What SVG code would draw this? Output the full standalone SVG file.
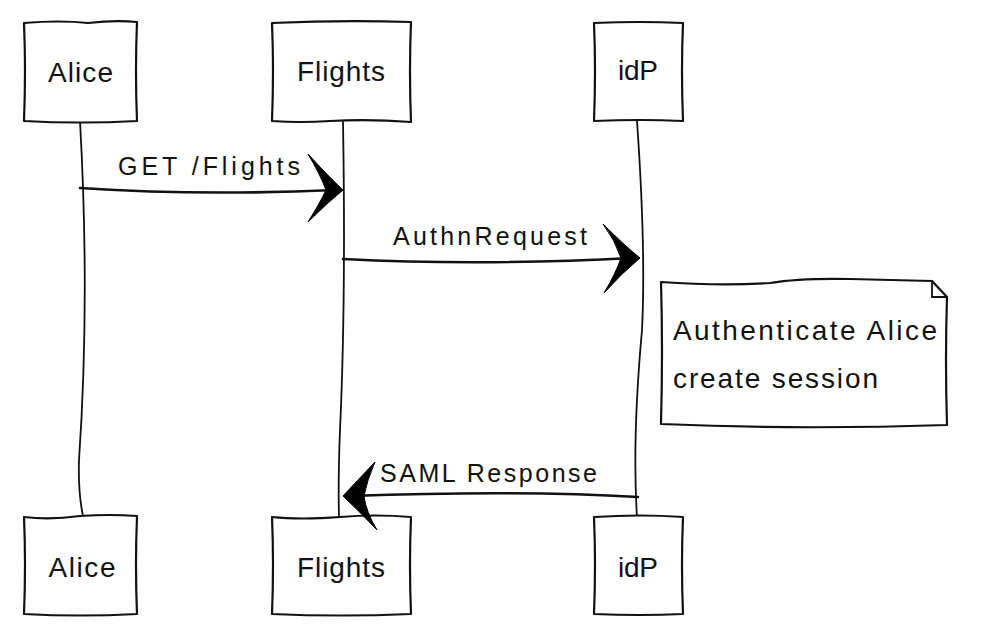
<svg xmlns="http://www.w3.org/2000/svg" width="986" height="626" viewBox="0 0 986 626">
<style>
.bx{fill:#fff;stroke:#111;stroke-width:2.2;stroke-linejoin:round}
.ln{fill:none;stroke:#111;stroke-width:1.8;stroke-linecap:round}
.msg{fill:none;stroke:#111;stroke-width:2.6;stroke-linecap:round}
.hd{fill:#000;stroke:#000;stroke-width:1}
.t{font-family:"Liberation Sans",Arial,sans-serif;fill:#111}
.nl{font-size:28px;text-anchor:middle}
.ml{font-size:25px}
</style>
<rect width="986" height="626" fill="#fff"/>
<g id="lifelines">
<path class="ln" d="M80 121 Q 90 300 79 460 Q 78 492 83 516"/>
<path class="ln" d="M343 122 Q 346 300 340 430 Q 338 480 339 517"/>
<path class="ln" d="M637 121 Q 646 250 642 330 Q 632 440 637 517"/>
</g>
<g id="node-alice-top">
<path class="bx" d="M24 23 Q 60 20 88 23 Q 115 20 137 22 Q 135 70 137 121 Q 80 124 24 121 Q 26 70 24 23 Z"/>
<text class="t nl" x="80.5" y="82" textLength="65">Alice</text>
</g>
<g id="node-flights-top">
<path class="bx" d="M272 23 Q 340 20 411 22 Q 409 70 411 122 Q 370 119 330 121 Q 300 123 272 121 Q 274 70 272 23 Z"/>
<text class="t nl" x="341" y="81" textLength="88">Flights</text>
</g>
<g id="node-idp-top">
<path class="bx" d="M594 23 Q 640 21 683 23 Q 681 70 683 121 Q 640 119 594 121 Q 596 70 594 23 Z"/>
<text class="t nl" x="638" y="80" textLength="40">idP</text>
</g>
<g id="node-alice-bottom">
<path class="bx" d="M24 517 Q 50 520 80 516 Q 110 514 137 516 Q 135 565 137 614 Q 80 617 24 614 Q 26 565 24 517 Z"/>
<text class="t nl" x="82" y="577" textLength="67">Alice</text>
</g>
<g id="node-flights-bottom">
<path class="bx" d="M272 517 Q 300 520 340 517 Q 375 514 411 517 Q 409 565 411 614 Q 340 617 272 614 Q 274 565 272 517 Z"/>
<text class="t nl" x="341" y="577" textLength="88">Flights</text>
</g>
<g id="node-idp-bottom">
<path class="bx" d="M594 517 Q 640 514 683 517 Q 681 565 683 614 Q 640 616 594 614 Q 596 565 594 517 Z"/>
<text class="t nl" x="638" y="577" textLength="40">idP</text>
</g>
<g id="note-authenticate">
<path class="bx" d="M661 282 Q 720 286 770 283 Q 800 278 850 279 L 932 281 L 947 297 Q 945 360 947 425 Q 800 430 661 424 Q 663 350 661 282 Z"/>
<path class="ln" d="M932 281 L 932 297 L 947 297" stroke-width="2"/>
<text class="t" x="673" y="340" font-size="28" textLength="264">Authenticate Alice</text>
<text class="t" x="673" y="388" font-size="28" textLength="205">create session</text>
</g>
<g id="connectors">
<path class="msg" d="M80 188 Q 200 196 336 190"/>
<path class="hd" d="M308 154 Q 330 178 343 190 Q 326 204 308 222 Q 320 203 326 190 Q 320 174 308 154 Z"/>
<text class="t ml" x="118" y="175" textLength="182">GET /Flights</text>
<path class="msg" d="M343 259 Q 480 266 633 258"/>
<path class="hd" d="M603 224 Q 625 246 640 258 Q 622 273 604 293 Q 616 273 621 258 Q 615 240 603 224 Z"/>
<text class="t ml" x="393" y="245" textLength="194">AuthnRequest</text>
<path class="msg" d="M638 497 Q 520 490 350 496"/>
<path class="hd" d="M375 462 Q 356 482 343 496 Q 360 512 377 530 Q 366 512 364 496 Q 367 480 375 462 Z"/>
<text class="t ml" x="380" y="482" textLength="217">SAML Response</text>
</g>
</svg>
